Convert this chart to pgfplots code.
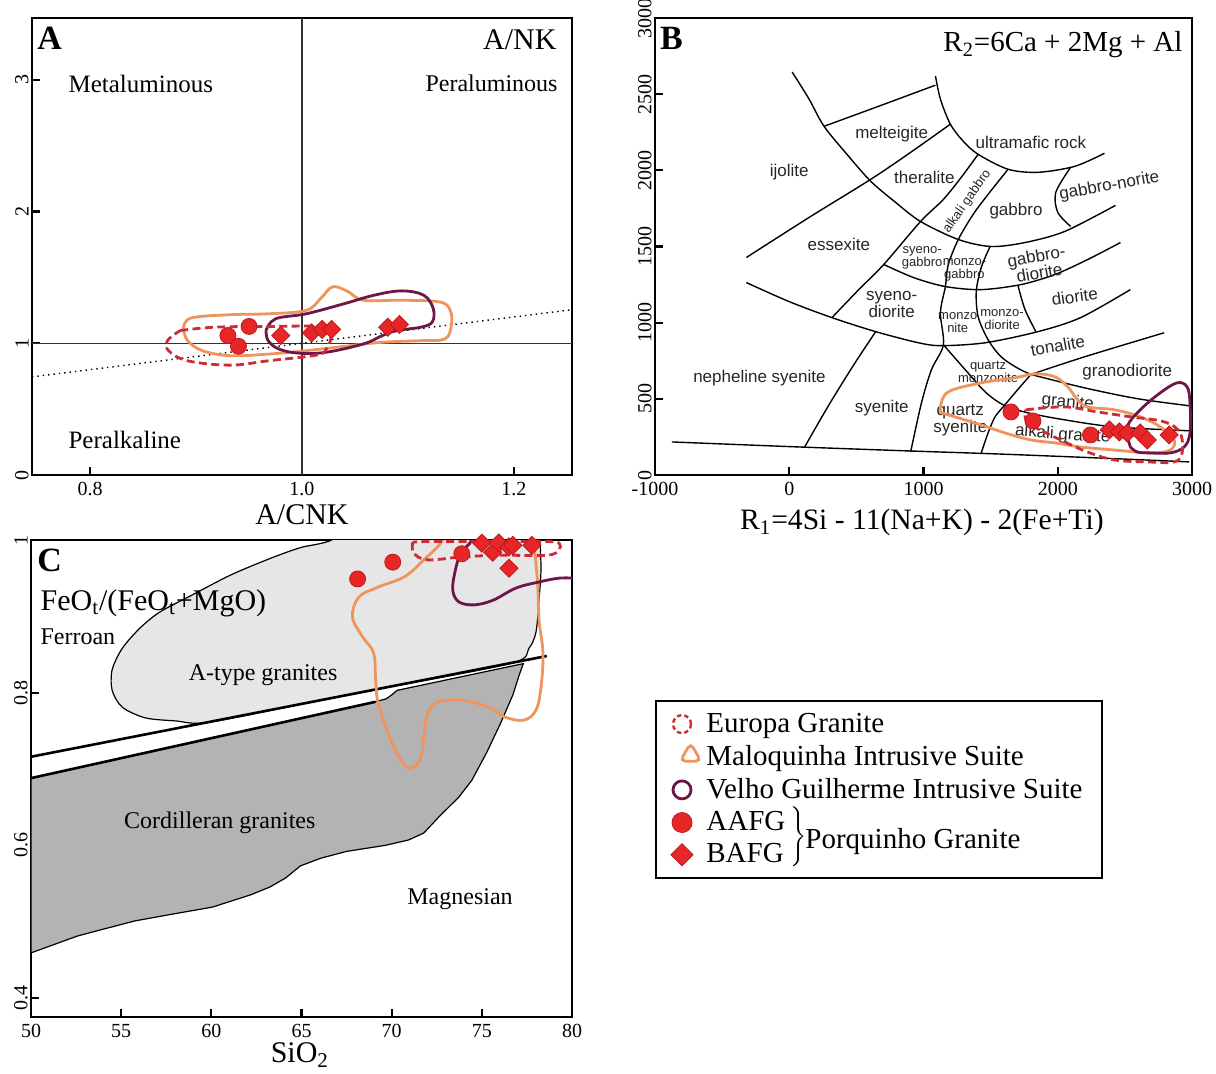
\documentclass[border=0pt]{standalone}
\usepackage{pgfplots}
\pgfplotsset{compat=1.18}
\usepackage{fontspec}
\setmainfont{Liberation Serif}
\newfontfamily\arialfont{Liberation Sans}
\usetikzlibrary{shapes.geometric}

\definecolor{eured}{RGB}{205,45,50}
\definecolor{malo}{RGB}{238,148,92}
\definecolor{vgcol}{RGB}{110,22,72}
\definecolor{markred}{RGB}{232,38,40}
\definecolor{markedge}{RGB}{190,25,30}
\definecolor{atype}{RGB}{230,230,230}
\definecolor{cord}{RGB}{179,179,179}

\pgfplotsset{
  panel/.style={scale only axis, anchor=south west, tick align=inside, tick pos=left,
    major tick length=4pt, axis line style={line width=1.2pt},
    every tick/.append style={line width=1.1pt, black},
    ticklabel style={font=\fontsize{10}{12}\selectfont},
    yticklabel style={rotate=90, anchor=south, inner sep=1.5pt},
    clip mode=individual},
  contour/.style={smooth, tension=0.6, line width=1.4pt, mark=none},
  europa/.style={contour, color=eured, dash pattern=on 4pt off 2.2pt},
  maloq/.style={contour, color=malo},
  velho/.style={contour, color=vgcol},
  aafg/.style={only marks, mark=*, mark size=4pt,
    mark options={fill=markred, draw=markedge, line width=0.4pt, solid}},
  bafg/.style={only marks, mark=square*, mark size=3.2pt,
    mark options={rotate=45, fill=markred, draw=markedge, line width=0.4pt, solid}},
  field/.style={black, line width=0.7pt, mark=none, smooth, tension=0.5},
}
\tikzset{lbl/.style={inner sep=0pt},
  rock/.style={inner sep=0pt, text=black!85, font=\arialfont\fontsize{8.5}{8.5}\selectfont, align=center},
  smallrock/.style={inner sep=0pt, text=black!85, font=\arialfont\fontsize{6.5}{6.6}\selectfont, align=center}}

\begin{document}
\begin{tikzpicture}

% ---------------- A: Shand index diagram ----------------
\begin{axis}[panel, at={(16pt,299pt)}, width=270pt, height=228.5pt,
  xmin=0.745, xmax=1.255, ymin=0, ymax=3.47,
  xtick={0.8,1.0,1.2}, xticklabels={0.8,1.0,1.2},
  ytick={0,1,2,3}, yticklabels={0,1,2,3}]
\addplot[black!80, line width=0.7pt, mark=none] coordinates {(0.745,1) (1.255,1)};
\addplot[black!80, line width=0.7pt, mark=none] coordinates {(1,0) (1,3.47)};
\addplot[black, dotted, line width=0.7pt, mark=none] coordinates {(0.745,0.745) (1.255,1.255)};

\addplot[maloq] coordinates {(0.888,1.110) (0.895,1.191) (0.932,1.217) (0.968,1.224) (1.004,1.250)
  (1.018,1.344) (1.029,1.429) (1.043,1.395) (1.058,1.327) (1.094,1.327) (1.130,1.314) (1.140,1.250)
  (1.141,1.135) (1.135,1.033) (1.112,1.020) (1.076,1.008) (1.040,0.977) (1.004,0.944) (0.968,0.918)
  (0.932,0.906) (0.906,0.944) (0.892,1.020) (0.888,1.110)};
\addplot[velho] coordinates {(0.966,1.097) (0.975,1.186) (1.004,1.224) (1.040,1.301) (1.068,1.365)
  (1.094,1.398) (1.115,1.365) (1.124,1.263) (1.123,1.161) (1.112,1.122) (1.090,1.097) (1.076,1.059)
  (1.058,0.995) (1.022,0.931) (0.996,0.926) (0.978,0.957) (0.968,1.020) (0.966,1.097)};
\addplot[europa] coordinates {(0.885,1.097) (0.917,1.122) (0.968,1.128) (1.025,1.122) (1.027,1.033)
  (1.023,0.957) (1.014,0.911) (0.968,0.867) (0.932,0.834) (0.892,0.867) (0.874,0.944) (0.873,1.020)
  (0.885,1.097)};

\addplot[aafg] coordinates {(0.930,1.059) (0.950,1.128) (0.940,0.977)};
\addplot[bafg] coordinates {(0.980,1.059) (1.009,1.079) (1.019,1.105) (1.028,1.105) (1.081,1.122) (1.092,1.143)};

\node[lbl, anchor=base west, font=\bfseries\fontsize{17}{17}\selectfont] at (axis description cs:0.009,0.930) {A};
\node[lbl, anchor=base east, font=\fontsize{15}{15}\selectfont] at (axis description cs:0.972,0.932) {A/NK};
\node[lbl, anchor=base west, font=\fontsize{12.5}{12.5}\selectfont] at (axis description cs:0.067,0.838) {Metaluminous};
\node[lbl, anchor=base east, font=\fontsize{12}{12}\selectfont] at (axis description cs:0.974,0.840) {Peraluminous};
\node[lbl, anchor=base west, font=\fontsize{12.5}{12.5}\selectfont] at (axis description cs:0.067,0.059) {Peralkaline};
\node[lbl, anchor=base, font=\fontsize{15}{15}\selectfont] at (axis description cs:0.5,-0.109) {A/CNK};
\end{axis}

% ---------------- B: R1-R2 classification ----------------
\begin{axis}[panel, at={(327.5pt,299pt)}, width=268.5pt, height=228.5pt,
  xmin=-1000, xmax=3000, ymin=0, ymax=3000,
  xtick={-1000,0,1000,2000,3000}, xticklabels={-1000,0,1000,2000,3000},
  ytick={0,500,1000,1500,2000,2500,3000}, yticklabels={0,500,1000,1500,2000,2500,3000}]
% field boundaries
\addplot[field] coordinates {(-874,217) (74,184) (889,158) (1556,138) (2296,112) (2978,86)};
\addplot[field] coordinates {(22,2645) (148,2467) (259,2289) (430,2105) (607,1928) (793,1789) (978,1664)
  (1259,1546) (1504,1500) (1756,1526) (2052,1599) (2430,1770)};
\addplot[field] coordinates {(-319,1428) (148,1691) (607,1941) (904,2118) (1200,2303)};
\addplot[field] coordinates {(259,2289) (667,2421) (1089,2559)};
\addplot[field] coordinates {(1089,2619) (1126,2467) (1200,2303) (1296,2191) (1407,2105) (1630,2007)
  (1852,1987) (2126,2026) (2348,2112)};
\addplot[field] coordinates {(318,1033) (518,1217) (704,1382) (978,1664) (1148,1809) (1281,1954) (1407,2105)};
\addplot[field] coordinates {(1630,2007) (1481,1842) (1370,1711) (1259,1546) (1185,1382) (1163,1237)
  (1126,1066) (1148,855) (1059,691) (985,474) (904,151)};
\addplot[field] coordinates {(2096,2020) (1985,1855) (2000,1724) (2096,1632)};
\addplot[field] coordinates {(704,1382) (926,1296) (1163,1237) (1430,1217) (1726,1250) (1978,1316)
  (2222,1414) (2467,1526)};
\addplot[field] coordinates {(1496,1500) (1430,1362) (1393,1204) (1407,1039) (1481,888) (1578,776)
  (1704,700) (1800,660)};
\addplot[field] coordinates {(1704,1243) (1756,1086) (1837,941)};
\addplot[field] coordinates {(-319,1263) (0,1138) (318,1033) (644,941) (963,868) (1133,849) (1459,868)
  (1852,941) (2170,1033) (2541,1217)};
\addplot[field] coordinates {(111,178) (222,349) (318,493) (481,724) (644,941)};
\addplot[field] coordinates {(1148,855) (1311,691) (1459,546) (1593,461) (1778,408) (2052,362)
  (2422,316) (2985,290)};
\addplot[field] coordinates {(1430,145) (1481,276) (1533,382) (1607,461) (1681,539) (1800,660)};
\addplot[field] coordinates {(1800,660) (2200,776) (2793,934)};
\addplot[field] coordinates {(1800,660) (2200,572) (2600,500) (2985,454)};

% field names
\node[rock] at (axis cs:763,2237) {melteigite};
\node[rock] at (axis cs:1800,2184) {ultramafic rock};
\node[rock] at (axis cs:0,1987) {ijolite};
\node[rock] at (axis cs:1007,1954) {theralite};
\node[smallrock, rotate=55] at (axis cs:1325,1795) {alkali gabbro};
\node[rock] at (axis cs:1689,1730) {gabbro};
\node[rock, rotate=10] at (axis cs:2385,1895) {gabbro-norite};
\node[rock] at (axis cs:370,1513) {essexite};
\node[smallrock] at (axis cs:990,1428) {syeno-\\gabbro};
\node[smallrock] at (axis cs:1305,1349) {monzo-\\gabbro};
\node[rock, rotate=10] at (axis cs:1852,1382) {gabbro-\\diorite};
\node[rock] at (axis cs:763,1118) {syeno-\\diorite};
\node[rock, rotate=8] at (axis cs:2126,1171) {diorite};
\node[smallrock] at (axis cs:1255,1000) {monzo\\nite};
\node[smallrock] at (axis cs:1585,1020) {monzo-\\diorite};
\node[rock, rotate=10] at (axis cs:2000,849) {tonalite};
\node[smallrock] at (axis cs:1481,678) {quartz\\monzonite};
\node[rock] at (axis cs:2518,678) {granodiorite};
\node[rock] at (axis cs:-222,638) {nepheline syenite};
\node[rock] at (axis cs:689,441) {syenite};
\node[rock, rotate=-5] at (axis cs:2074,474) {granite};
\node[rock] at (axis cs:1274,362) {quartz\\syenite};
\node[rock, rotate=-4] at (axis cs:2037,263) {alkali granite};

% suites
\addplot[maloq] coordinates {(1133,408) (1126,447) (1185,546) (1430,605) (1681,638) (1830,664) (1978,645)
  (2074,579) (2148,493) (2222,447) (2422,428) (2615,382) (2763,316) (2867,230) (2837,164) (2689,145)
  (2422,164) (2170,184) (1978,211) (1800,230) (1607,276) (1430,329) (1259,375) (1133,408)};
\addplot[velho] coordinates {(2541,184) (2518,316) (2615,428) (2763,539) (2889,605) (2963,579) (2985,474)
  (2985,276) (2941,184) (2837,145) (2689,145) (2593,151) (2541,184)};
\addplot[europa] coordinates {(1763,428) (2052,447) (2296,414) (2541,382) (2793,349) (2911,276) (2926,145)
  (2867,86) (2667,86) (2422,99) (2222,151) (2022,230) (1800,329) (1756,382) (1763,428)};

\addplot[aafg] coordinates {(1652,414) (1815,355) (2244,263)};
\addplot[bafg] coordinates {(2385,296) (2459,283) (2518,276) (2615,276) (2667,230) (2830,263)};

\node[lbl, anchor=base west, font=\bfseries\fontsize{17}{17}\selectfont] at (axis description cs:0.009,0.930) {B};
\node[lbl, anchor=base east, font=\fontsize{14.5}{14.5}\selectfont] at (axis description cs:0.983,0.926) {R\textsubscript{2}=6Ca + 2Mg + Al};
\node[lbl, anchor=base, font=\fontsize{14.8}{14.8}\selectfont] at (axis description cs:0.497,-0.120) {R\textsubscript{1}=4Si - 11(Na+K) - 2(Fe+Ti)};
\end{axis}

% ---------------- C: Fe-number vs silica ----------------
\begin{axis}[panel, at={(15.5pt,28pt)}, width=270.5pt, height=238.5pt,
  xmin=50, xmax=80, ymin=0.375, ymax=1,
  xtick={50,55,60,65,70,75,80}, xticklabels={50,55,60,65,70,75,80},
  ytick={0.4,0.6,0.8,1}, yticklabels={0.4,0.6,0.8,1}]
\addplot[fill=cord, draw=black, line width=0.6pt, mark=none] coordinates {(50,0.688) (69.1,0.788) (69.7,0.792)
  (70.0,0.797) (70.3,0.803) (77.3,0.838) (77.1,0.825) (76.72,0.797) (76.06,0.761) (75.28,0.722)
  (74.44,0.685) (73.72,0.663) (72.61,0.637) (71.78,0.616) (70.94,0.607) (69.67,0.600) (67.5,0.592)
  (66.06,0.583) (64.94,0.573) (64.11,0.557) (63.22,0.545) (62.17,0.535) (60.06,0.519) (57.89,0.510)
  (55.78,0.501) (53.83,0.489) (52.56,0.481) (50,0.459)} -- cycle;
\addplot[fill=atype, draw=black, line width=0.6pt, mark=none, smooth, tension=0.5] coordinates {(68.5,1.03)
  (66.67,1.0) (64.94,0.990) (63.28,0.976) (61.06,0.954) (58.94,0.928) (57.17,0.906) (56.06,0.885)
  (55.06,0.858) (54.5,0.830) (54.5,0.803) (55.06,0.781) (56.33,0.767) (58.0,0.763) (59.8,0.761)
  (65,0.785) (70,0.808) (76.7,0.839) (77.61,0.858) (78.0,0.879) (78.17,0.921) (78.28,0.961)
  (78.22,1.0) (78.1,1.03)} -- cycle;
\addplot[black, line width=1.3pt, mark=none] coordinates {(50,0.716) (78.6,0.848)};
\addplot[black, line width=1.3pt, mark=none] coordinates {(50,0.688) (69.1,0.788)};

\addplot[maloq] coordinates {(73.1,1.03) (72.83,1.0) (71.78,0.974) (70.72,0.952) (69.22,0.938) (68.17,0.925)
  (67.83,0.899) (68.39,0.873) (69.0,0.852) (69.11,0.817) (69.22,0.790) (69.67,0.755) (70.28,0.721)
  (70.94,0.701) (71.56,0.712) (71.78,0.742) (72.0,0.773) (72.61,0.788) (73.94,0.790) (75.39,0.781)
  (76.28,0.768) (77.33,0.764) (78.0,0.777) (78.28,0.807) (78.39,0.852) (78.17,0.895) (78.11,0.938)
  (78.0,0.970) (77.89,1.0) (77.85,1.03)};
\addplot[velho] coordinates {(74.6,1.03) (74.44,1.0) (73.83,0.983) (73.5,0.957) (73.39,0.934) (73.72,0.919)
  (74.56,0.915) (75.61,0.921) (76.89,0.937) (78.17,0.945) (79.28,0.950) (80.2,0.950)};
\addplot[europa] coordinates {(71.17,0.997) (71.22,0.983) (72.0,0.974) (73.94,0.978) (76.06,0.980)
  (78.61,0.980) (79.28,0.987) (79.28,0.996) (78.61,0.998) (75,0.998) (72,0.998) (71.17,0.997)};

\addplot[aafg] coordinates {(68.11,0.949) (70.06,0.971) (73.89,0.982)};
\addplot[bafg] coordinates {(75.0,0.996) (75.61,0.984) (75.94,0.996) (76.5,0.991) (76.72,0.993) (77.78,0.993) (76.5,0.963)};

\node[lbl, anchor=base west, font=\bfseries\fontsize{17}{17}\selectfont] at (axis description cs:0.011,0.933) {C};
\node[lbl, anchor=base west, font=\fontsize{15}{15}\selectfont] at (axis description cs:0.017,0.853) {FeO\textsubscript{t}/(FeO\textsubscript{t}+MgO)};
\node[lbl, anchor=base west, font=\fontsize{12}{12}\selectfont] at (axis description cs:0.017,0.780) {Ferroan};
\node[lbl, anchor=base, font=\fontsize{12}{12}\selectfont] at (axis description cs:0.429,0.706) {A-type granites};
\node[lbl, anchor=base, font=\fontsize{12}{12}\selectfont] at (axis description cs:0.349,0.396) {Cordilleran granites};
\node[lbl, anchor=base, font=\fontsize{12}{12}\selectfont] at (axis description cs:0.793,0.235) {Magnesian};
\node[lbl, anchor=base, font=\fontsize{15}{15}\selectfont] at (axis description cs:0.497,-0.096) {SiO\textsubscript{2}};
\end{axis}

% ---------------- legend ----------------
\begin{axis}[at={(327.5pt,186.5pt)}, anchor=north west, hide axis, scale only axis,
  width=10pt, height=10pt, xmin=0, xmax=1, ymin=0, ymax=1,
  legend cell align=left,
  legend style={at={(0,1)}, anchor=north west, draw=black, line width=1pt, fill=white,
    font=\fontsize{14.5}{15}\selectfont, inner xsep=7.5pt, inner ysep=4pt, row sep=1pt,
    /tikz/every odd column/.append style={column sep=0pt}}]
\addlegendimage{only marks, mark=o, mark size=4.5pt, mark options={eured, line width=1.2pt, dash pattern=on 2.2pt off 1.5pt}}
\addlegendentry{Europa Granite}
\addlegendimage{legend image code/.code={\node[draw=malo, line width=1.4pt, regular polygon,
  regular polygon sides=3, minimum size=12pt, rounded corners=2.6pt, inner sep=0pt] at (0.3cm,0.8pt) {};}}
\addlegendentry{Maloquinha Intrusive Suite}
\addlegendimage{only marks, mark=o, mark size=4.5pt, mark options={vgcol, line width=1.4pt}}
\addlegendentry{Velho Guilherme Intrusive Suite}
\addlegendimage{only marks, mark=*, mark size=5pt, mark options={fill=markred, draw=markedge, line width=0.4pt}}
\addlegendentry{AAFG}
\addlegendimage{only marks, mark=square*, mark size=3.9pt, mark options={rotate=45, fill=markred, draw=markedge, line width=0.4pt}}
\addlegendentry{BAFG}
\end{axis}
\node[inner sep=0pt, anchor=west] at (394pt,118pt) {$\left.\rule[-13pt]{0pt}{26pt}\right\}$};
\node[lbl, anchor=base west, font=\fontsize{14.5}{15}\selectfont] at (402.5pt,112.5pt) {Porquinho Granite};

\pgfresetboundingbox
\useasboundingbox (0,0) rectangle (608pt,536.5pt);
\end{tikzpicture}
\end{document}
